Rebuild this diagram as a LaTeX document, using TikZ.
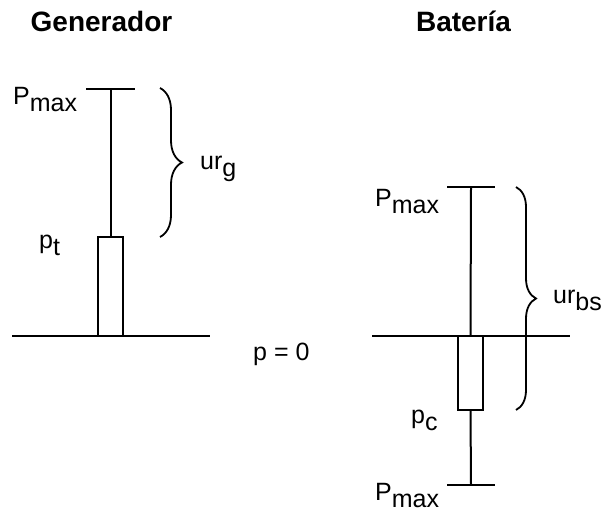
\documentclass[tikz,border=0pt]{standalone}
\usepackage{fontspec}
\setmainfont{Liberation Sans}
\usetikzlibrary{decorations.pathreplacing}
\newcommand{\lowsub}[1]{\raisebox{-7pt}{#1}}

\begin{document}
\begin{tikzpicture}[x=1pt, y=-1pt,
  bar/.style={line width=2pt},
  powerbox/.style={rectangle, draw, line width=2pt, minimum width=25pt, inner sep=0pt},
  curly/.style={decorate, decoration={brace, amplitude=#1}, line width=1.8pt},
  title/.style={font=\fontsize{28}{32}\selectfont\bfseries, inner sep=0pt, anchor=base},
  lbl/.style={font=\fontsize{25}{28}\selectfont, inner sep=0pt, anchor=base west}
]
\useasboundingbox (0,0) rectangle (601,511);

\node[title] (gen) at (101.5,32) {Generador};
\node[title] (bat) at (463.5,32) {Batería};

% generador
\coordinate (gleft) at (12,336);
\coordinate (gright) at (210,336);
\coordinate (gcap) at (110.5,89);
\node[powerbox, minimum height=99pt] (gpower) at (110.5,286.5) {};
\draw[bar] (gleft) -- (gright);
\draw[bar] ([xshift=-24.5pt]gcap) -- ([xshift=24.5pt]gcap);
\draw[bar] (gcap) -- (gpower.north);
\draw[curly=22pt] (160,88) -- (160,237);
\node[lbl] (pmaxg) at (13,104) {P\lowsub{max}};
\node[lbl] (ptg) at (39,248) {p\lowsub{t}};
\node[lbl] (urg) at (200,169) {ur\lowsub{g}};

\node[lbl] (pzero) at (253,360) {p = 0};

% bateria
\coordinate (bleft) at (372,336);
\coordinate (bright) at (570,336);
\coordinate (bcaptop) at (471,187);
\coordinate (bcapbot) at (471,485);
\node[powerbox, minimum height=74pt] (bpower) at (470.5,373) {};
\draw[bar] (bleft) -- (bright);
\draw[bar] ([xshift=-24pt]bcaptop) -- ([xshift=24pt]bcaptop);
\draw[bar] ([xshift=-24pt]bcapbot) -- ([xshift=24pt]bcapbot);
\draw[bar] (bcaptop) -- (bpower.north);
\draw[bar] (bpower.south) -- (bcapbot);
\draw[curly=20pt] (516,187) -- (516,410);
\node[lbl] (pmaxtop) at (375,206) {P\lowsub{max}};
\node[lbl] (pcb) at (411,423) {p\lowsub{c}};
\node[lbl] (pmaxbot) at (375,500) {P\lowsub{max}};
\node[lbl] (urbs) at (553,303) {ur\lowsub{bs}};
\end{tikzpicture}
\end{document}
